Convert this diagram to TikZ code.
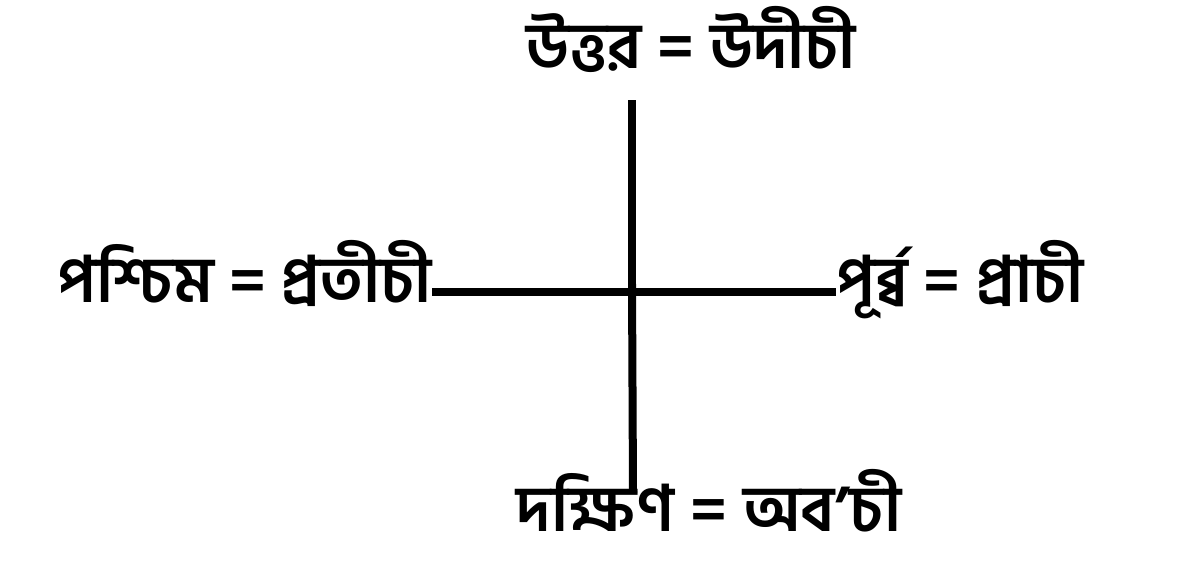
\documentclass[tikz,border=0pt]{standalone}
\usepackage{fontspec}
\newfontfamily\bn[Script=Bengali]{Hind Siliguri}
\newcommand{\eqs}{\hspace{0.25em}=\hspace{0.25em}}
\begin{document}
\begin{tikzpicture}[x=1pt,y=-1pt,
  lbl/.style={font=\bn\bfseries\fontsize{64}{70}\selectfont, inner sep=0pt, text=black},
  arm/.style={line width=8pt, black}]
\useasboundingbox (0,0) rectangle (1183,563);
\node[lbl, anchor=base] (top) at (691,68) {উত্তর\eqs উদীচী};
\node[lbl, anchor=base east] (left) at (432,302) {পশ্চিম\eqs প্রতীচী};
\node[lbl, anchor=base west] (right) at (836,302) {পূর্ব্ব\eqs প্রাচী};
\node[lbl, anchor=base] (bottom) at (709,531) {দক্ষিণ\eqs অব’চী};
\coordinate (c) at (632,292);
\coordinate (nt) at (632,100);
\coordinate (sb) at (633,493);
\draw[arm] (nt) -- ([yshift=-10pt]c);
\draw[arm] ([yshift=8pt]c) -- (sb);
\draw[arm] (left.east |- c) -- ([xshift=-4pt]c);
\draw[arm] ([xshift=4pt]c) -- (right.west |- c);
\end{tikzpicture}
\end{document}
